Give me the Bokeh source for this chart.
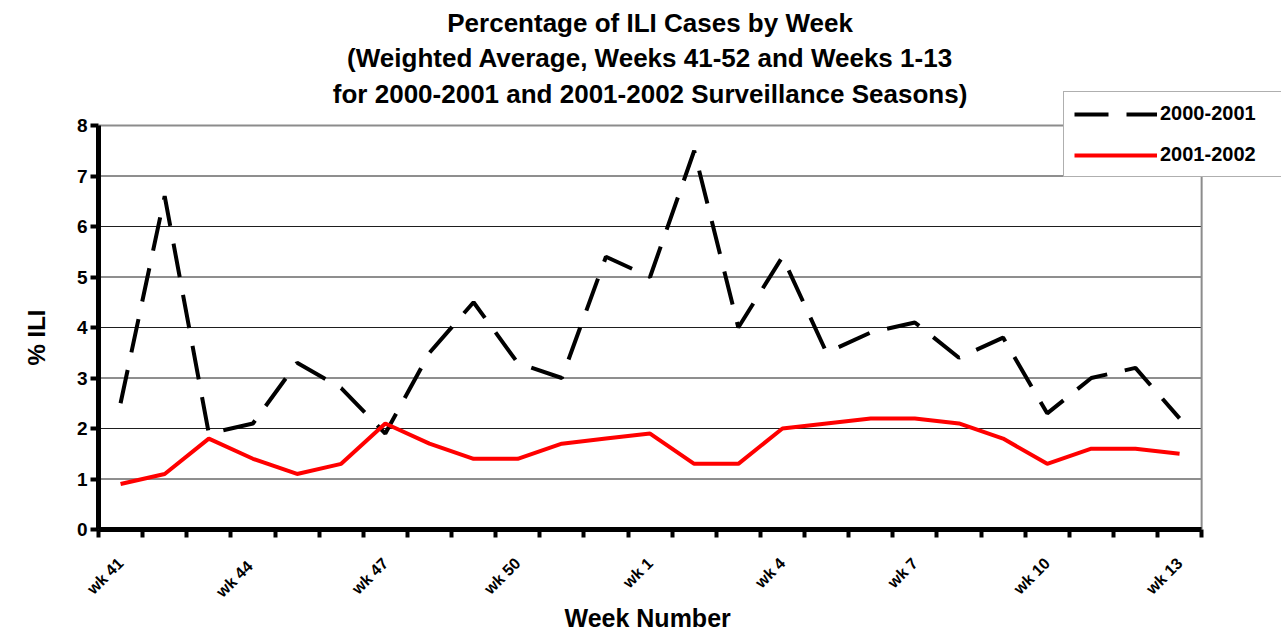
import math
from bokeh.plotting import figure
from bokeh.models import (Range1d, LinearAxis, FixedTicker, Legend, LegendItem, Label, Title)
from bokeh.embed import file_html
from bokeh.resources import INLINE

# ---------------- data ----------------
weeks = ["wk 41", "wk 42", "wk 43", "wk 44", "wk 45", "wk 46", "wk 47", "wk 48",
         "wk 49", "wk 50", "wk 51", "wk 52", "wk 1", "wk 2", "wk 3", "wk 4", "wk 5",
         "wk 6", "wk 7", "wk 8", "wk 9", "wk 10", "wk 11", "wk 12", "wk 13"]
season_2000_2001 = [2.5, 6.6, 1.9, 2.1, 3.3, 2.8, 1.9, 3.5, 4.5, 3.3, 3.0, 5.4, 5.0,
                    7.5, 4.0, 5.4, 3.5, 3.9, 4.1, 3.4, 3.8, 2.3, 3.0, 3.2, 2.2]
season_2001_2002 = [0.9, 1.1, 1.8, 1.4, 1.1, 1.3, 2.1, 1.7, 1.4, 1.4, 1.7, 1.8, 1.9,
                    1.3, 1.3, 2.0, 2.1, 2.2, 2.2, 2.1, 1.8, 1.3, 1.6, 1.6, 1.5]
shown_week_labels = {"wk 41": "wk 41", "wk 44": "wk  44", "wk 47": "wk 47",
                     "wk 50": "wk 50", "wk 1": "wk 1", "wk 4": "wk 4", "wk 7": "wk 7",
                     "wk 10": "wk 10", "wk 13": "wk 13"}
y_ticks = [0, 1, 2, 3, 4, 5, 6, 7, 8]
series_names = ["2000-2001", "2001-2002"]
title_lines = ["Percentage of ILI Cases by Week",
               "(Weighted Average, Weeks 41-52 and Weeks 1-13",
               "for 2000-2001 and 2001-2002 Surveillance Seasons)"]
x_title = "Week Number"
y_title = "% ILI"

FONT = "Liberation Sans"

# ---------------- layout (pixels) ----------------
W, H = 1281, 632
BORDER_LEFT, BORDER_BOTTOM = 96, 103
FRAME_W = W - BORDER_LEFT
FRAME_H = H - BORDER_BOTTOM
CAT_PX = 44.2            # width of one week on screen
UNIT_PX = 50.5           # height of 1 %ILI on screen
Y_MAX_AXIS = y_ticks[-1]

n = len(weeks)
x_pos = list(range(n))                       # category index of each week
label_idx = [i for i, w in enumerate(weeks) if w in shown_week_labels]
bounds = [i - 0.5 for i in range(n + 1)]     # category boundaries
x_lo, x_hi = -0.5, n - 0.5

p = figure(width=W, height=H, output_backend="svg", toolbar_location=None,
           x_range=Range1d(x_lo, x_lo + FRAME_W / CAT_PX),
           y_range=Range1d(0, FRAME_H / UNIT_PX),
           x_axis_location=None, title=None,
           min_border_left=BORDER_LEFT, min_border_right=0, min_border_top=0,
           min_border_bottom=BORDER_BOTTOM)
p.background_fill_color = "white"
p.border_fill_color = "white"
p.outline_line_color = None
p.ygrid.grid_line_color = None
p.xgrid.grid_line_color = None

# gridlines and right border of the plotting area
grid_y = y_ticks[1:-1]
p.segment(x0=[x_lo] * len(grid_y), x1=[x_hi] * len(grid_y), y0=grid_y, y1=grid_y,
          line_color="#1e1e1e", line_width=1)
p.segment(x0=[x_lo], x1=[x_hi], y0=[Y_MAX_AXIS], y1=[Y_MAX_AXIS],
          line_color="#8c8c8c", line_width=2)
p.segment(x0=[x_hi], x1=[x_hi], y0=[0], y1=[Y_MAX_AXIS],
          line_color="#8c8c8c", line_width=2)

# boundary-tick axis (nearest the frame)
bax = LinearAxis(ticker=FixedTicker(ticks=bounds, minor_ticks=[]), bounds=(x_lo, x_hi))
bax.axis_line_color = "black"
bax.axis_line_width = 5
bax.major_tick_line_color = "black"
bax.major_tick_line_width = 4
bax.major_tick_out = 8
bax.major_tick_in = 0
bax.minor_tick_line_color = None
bax.major_label_overrides = {b: "" for b in bounds}
bax.major_label_text_color = None
bax.major_label_text_font_size = "1px"
bax.major_label_standoff = 0
p.add_layout(bax, "below")

# label axis
lax = LinearAxis(ticker=FixedTicker(ticks=label_idx, minor_ticks=[]), bounds=(x_lo, x_hi))
lax.axis_line_color = None
lax.major_tick_line_color = None
lax.minor_tick_line_color = None
lax.major_label_overrides = {i: shown_week_labels[weeks[i]] for i in label_idx}
lax.major_label_orientation = math.pi / 4
lax.major_label_text_font = FONT
lax.major_label_text_font_style = "bold"
lax.major_label_text_font_size = "16px"
lax.major_label_text_color = "black"
lax.major_label_standoff = 17
p.add_layout(lax, "below")

# x title, centred under the week axis
p.add_layout(Title(text=x_title, align="left", offset=466, vertical_align="bottom",
                   standoff=-16, text_font=FONT, text_font_style="bold",
                   text_font_size="25px", text_color="black"), "below")

# y axis
yax = p.yaxis[0]
yax.ticker = FixedTicker(ticks=y_ticks, minor_ticks=[])
yax.bounds = (0, Y_MAX_AXIS)
yax.axis_line_width = 5
yax.axis_line_color = "black"
yax.major_tick_line_width = 4
yax.major_tick_out = 8
yax.major_tick_in = 0
yax.minor_tick_line_color = None
yax.major_label_text_font = FONT
yax.major_label_text_font_style = "bold"
yax.major_label_text_font_size = "19px"
yax.major_label_text_color = "black"
yax.major_label_standoff = 3

# y title, centred beside the 0-8 axis
p.add_layout(Title(text=y_title, align="left", offset=164, vertical_align="top",
                   standoff=44, text_font=FONT, text_font_style="bold",
                   text_font_size="24px", text_color="black"), "left")

# data lines
r1 = p.line(x_pos, season_2000_2001, line_color="black", line_width=4,
            line_dash="34 18")
r2 = p.line(x_pos, season_2001_2002, line_color="#ff0000", line_width=4)

# three-line title, centred over the plotting area
title_centres_px = [22, 57, 93]   # distance of each line's centre from figure top
for line, cy in zip(title_lines, title_centres_px):
    p.add_layout(Label(x=(x_lo + x_hi) / 2, y=(FRAME_H - cy) / UNIT_PX, text=line,
                       text_align="center", text_baseline="middle",
                       text_font=FONT, text_font_style="bold",
                       text_font_size="26px", text_color="black"))

legend = Legend(items=[LegendItem(label=series_names[0], renderers=[r1]),
                       LegendItem(label=series_names[1], renderers=[r2])],
                location=(965, 352))
legend.label_text_font = FONT
legend.label_text_font_style = "bold"
legend.label_text_font_size = "20px"
legend.label_text_color = "black"
legend.glyph_width = 83
legend.glyph_height = 20
legend.label_height = 20
legend.label_width = 120
legend.label_standoff = 3
legend.spacing = 18
legend.padding = 10
legend.margin = 0
legend.border_line_color = "#606060"
legend.border_line_width = 1
legend.background_fill_color = "white"
legend.background_fill_alpha = 1
p.add_layout(legend, "center")

open("out.html", "w").write(file_html(p, INLINE))
